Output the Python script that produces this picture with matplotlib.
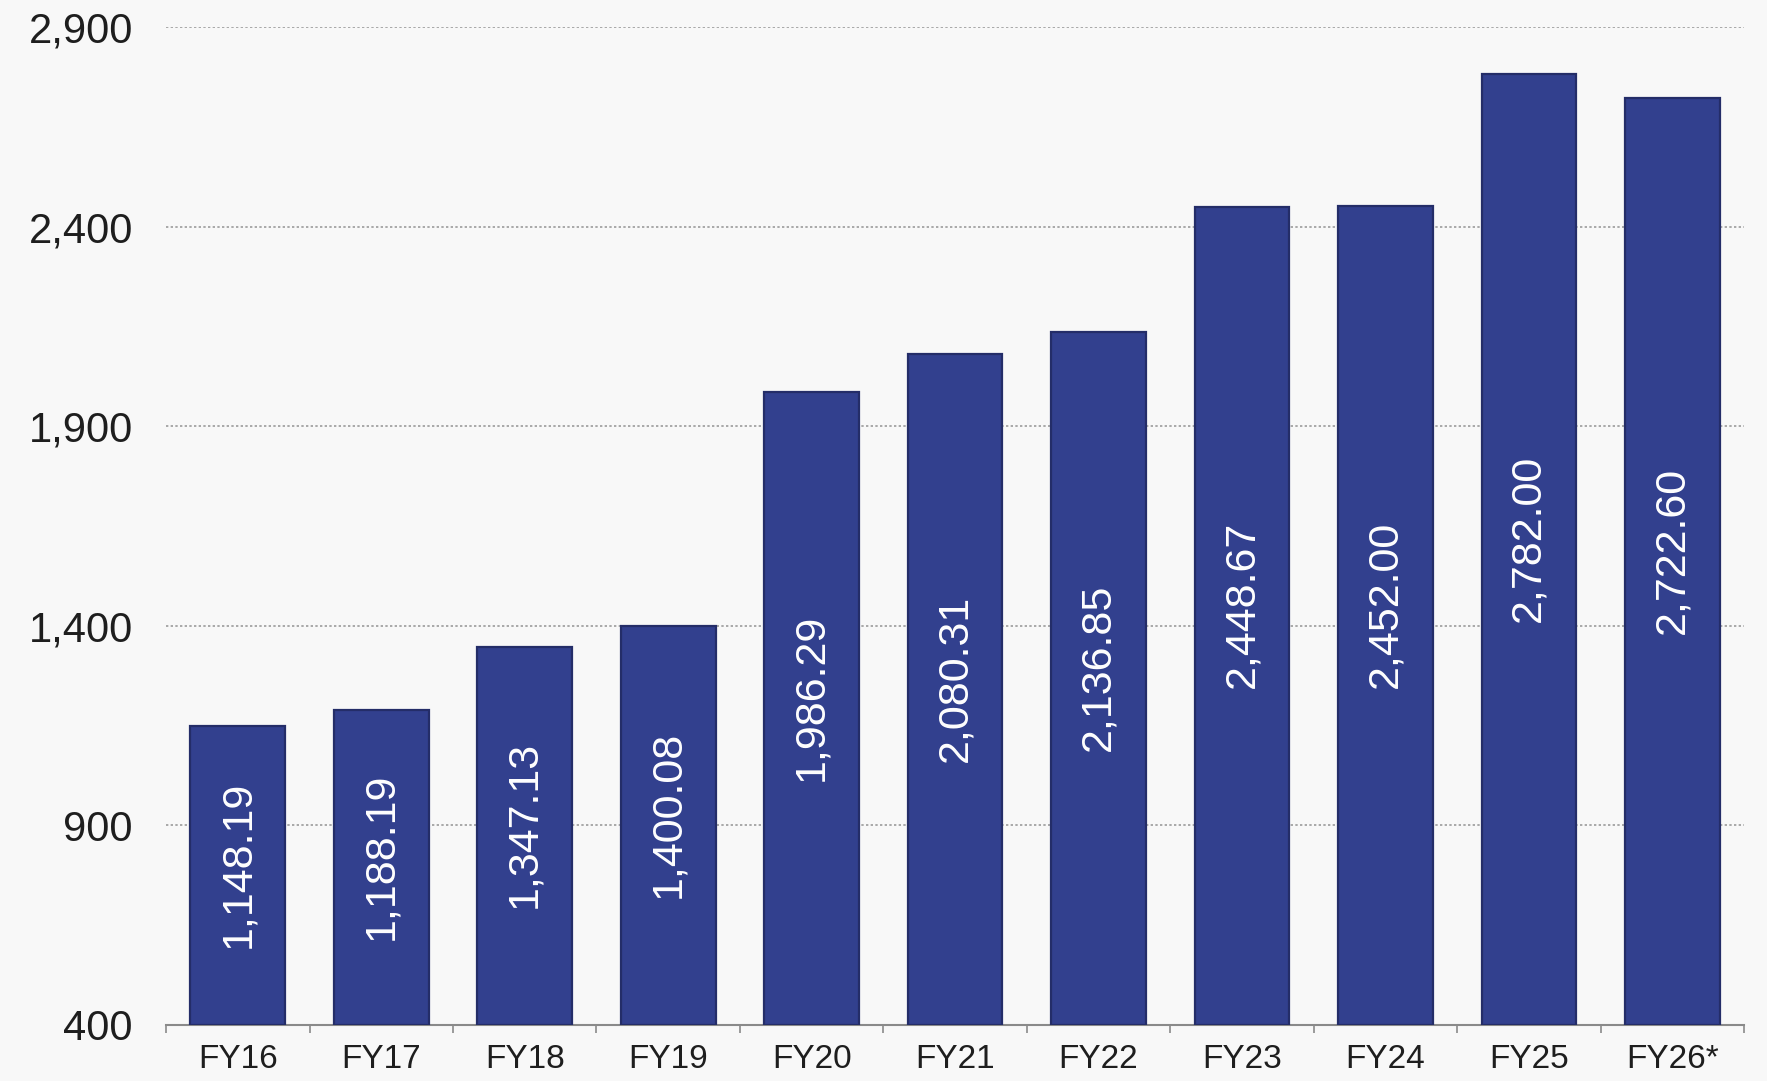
import matplotlib.pyplot as plt
import numpy as np

plt.rcParams['font.family'] = ['Liberation Sans', 'DejaVu Sans']

# Annual values per fiscal year
years = ['FY16', 'FY17', 'FY18', 'FY19', 'FY20', 'FY21',
         'FY22', 'FY23', 'FY24', 'FY25', 'FY26*']
values = [1148.19, 1188.19, 1347.13, 1400.08, 1986.29, 2080.31,
          2136.85, 2448.67, 2452.00, 2782.00, 2722.60]
y_ticks = [400, 900, 1400, 1900, 2400, 2900]

bg = '#f8f8f8'
bar_color = '#32408e'

fig = plt.figure(figsize=(17.67, 10.81), dpi=100, facecolor=bg)
ax = fig.add_axes([0.094, 0.052, 0.893, 0.923], facecolor=bg)

x = np.arange(len(years))
ymin, ymax = y_ticks[0], y_ticks[-1]
bars = ax.bar(x, np.array(values) - ymin, bottom=ymin, width=0.66,
              color=bar_color, edgecolor='#242d68', linewidth=1.6, zorder=3)

# value labels written vertically in the middle of each bar
for xi, v in zip(x, values):
    ax.annotate(f'{v:,.2f}', xy=(xi, (ymin + v) / 2), xytext=(0, 8),
                textcoords='offset points', rotation=90,
                ha='center', va='center', color='white', fontsize=31,
                zorder=4)

ax.set_xlim(-0.5, len(years) - 0.5)
ax.set_ylim(ymin, ymax)

ax.set_yticks(y_ticks)
ax.set_yticklabels([f'{t:,}' for t in y_ticks])
ax.tick_params(axis='y', length=0, pad=24, labelsize=30, labelcolor='#1e1e1e')

ax.set_xticks(x)
ax.set_xticklabels(years)
ax.tick_params(axis='x', which='major', length=0, pad=14, labelsize=24,
               labelcolor='#1e1e1e')
ax.set_xticks(np.arange(len(years) + 1) - 0.5, minor=True)
ax.tick_params(axis='x', which='minor', length=6, width=1.2, color='#8a8a8a')

ax.yaxis.grid(True, linestyle=(0, (1.2, 1.2)), color='#a8a8a8', linewidth=1.4,
              zorder=0)
ax.set_axisbelow(True)

for side in ['left', 'right', 'top']:
    ax.spines[side].set_visible(False)
ax.spines['bottom'].set_color('#8a8a8a')
ax.spines['bottom'].set_linewidth(1.5)

fig.savefig('out.png', dpi=100, facecolor=bg)
